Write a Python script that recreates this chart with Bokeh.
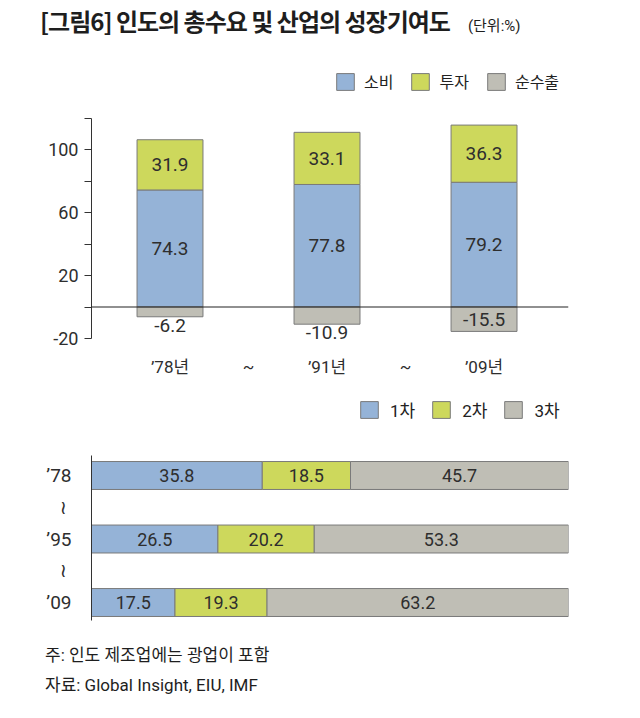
import numpy as np
from bokeh.plotting import figure
from bokeh.models import (Range1d, FixedTicker, Span, Legend, LegendItem,
                          Div, ColumnDataSource)
from bokeh.layouts import column
from bokeh.core.properties import value
from bokeh.embed import file_html
from bokeh.resources import INLINE

# ---------------- data ----------------
periods = ["’78년", "’91년", "’09년"]
consumption = [74.3, 77.8, 79.2]
investment = [31.9, 33.1, 36.3]
net_exports = [-6.2, -10.9, -15.5]
demand_series = ["소비", "투자", "순수출"]

years = ["’78", "’95", "’09"]
primary = [35.8, 26.5, 17.5]
secondary = [18.5, 20.2, 19.3]
tertiary = [45.7, 53.3, 63.2]
industry_series = ["1차", "2차", "3차"]

y_ticks = [-20, 0, 20, 40, 60, 80, 100, 120]
y_tick_labels = ["-20", "", "20", "", "60", "", "100", ""]

title_text = "[그림6] 인도의 총수요 및 산업의 성장기여도"
unit_text = "(단위:%)"
note_text = "주: 인도 제조업에는 광업이 포함"
source_text = "자료: Global Insight, EIU, IMF"

# ---------------- styles ----------------
BLUE = "#95b3d7"
GREEN = "#cdd85c"
GRAY = "#bfbeb5"
EDGE = "#7a7a7a"
TXT = "#2e2e2e"
NUM_S = "Roboto, 'Noto Sans CJK KR', sans-serif"
TILDE_S = "Roboto, 'DejaVu Sans', sans-serif"
KR_S = "'Noto Sans CJK KR', sans-serif"
NUM = value(NUM_S)

# ---------------- top chart ----------------
x = np.arange(len(periods), dtype=float)
cons = np.array(consumption)
inv = np.array(investment)
net = np.array(net_exports)
src1 = ColumnDataSource(dict(x=x, c=cons, ci=cons + inv, n=net))

p1 = figure(width=640, height=320, x_range=Range1d(-0.5, 2.538), y_range=Range1d(-24.44, 155.24),
            output_backend="svg", toolbar_location=None,
            min_border_left=88, min_border_right=72, min_border_top=2, min_border_bottom=35)
p1.outline_line_color = None
p1.xgrid.visible = False
p1.ygrid.visible = False
p1.background_fill_color = None
p1.border_fill_color = None

bw = 0.42
r_c = p1.vbar(x="x", bottom=0, top="c", width=bw, fill_color=BLUE, line_color=EDGE, source=src1)
r_i = p1.vbar(x="x", bottom="c", top="ci", width=bw, fill_color=GREEN, line_color=EDGE, source=src1)
r_n = p1.vbar(x="x", bottom="n", top=0, width=bw, fill_color=GRAY, line_color=EDGE, source=src1)

p1.add_layout(Span(location=0, dimension="width", line_color="#222222", line_width=1.2))

p1.text(x=np.concatenate([x, x]), y=np.concatenate([cons / 2, cons + inv / 2]),
        text=[f"{v:.1f}" for v in list(cons) + list(inv)],
        text_align="center", text_baseline="middle",
        text_font=NUM, text_font_size="19px", text_color=TXT)
inside = np.abs(net) > 12
p1.text(x=x[inside], y=net[inside] / 2, text=[f"{v:.1f}" for v in net[inside]],
        text_align="center", text_baseline="middle",
        text_font=NUM, text_font_size="19px", text_color=TXT)
p1.text(x=x[~inside], y=net[~inside] - 1.3, text=[f"{v:.1f}" for v in net[~inside]],
        text_align="center", text_baseline="top",
        text_font=NUM, text_font_size="19px", text_color=TXT)

yax = p1.yaxis[0]
yax.bounds = (-20, 120)
yax.ticker = FixedTicker(ticks=y_ticks)
yax.major_label_overrides = dict(zip(y_ticks, y_tick_labels))
yax.minor_tick_line_color = None
yax.major_tick_in = 0
yax.major_tick_out = 7
yax.axis_line_color = "#333333"
yax.major_tick_line_color = "#333333"
yax.major_label_text_font = NUM_S
yax.major_label_text_font_size = "18px"
yax.major_label_text_color = TXT
yax.major_label_standoff = 6

xax = p1.xaxis[0]
x_ticks = [0, 0.5, 1, 1.5, 2]
xax.ticker = FixedTicker(ticks=x_ticks)
xax.major_label_overrides = {0: periods[0], 0.5: "~", 1: periods[1], 1.5: "~", 2: periods[2]}
xax.axis_line_color = None
xax.major_tick_line_color = None
xax.minor_tick_line_color = None
xax.major_label_standoff = 5
xax.major_label_text_font = NUM_S
xax.major_label_text_font_size = "17px"
xax.major_label_text_color = TXT

leg1 = Legend(items=[LegendItem(label=s, renderers=[r]) for s, r in zip(demand_series, [r_c, r_i, r_n])],
              orientation="horizontal", location=(243, 252),
              glyph_width=22, glyph_height=21, label_height=21, label_standoff=8, spacing=16,
              padding=0, margin=0, border_line_color=None, background_fill_alpha=0,
              label_text_font=KR_S, label_text_font_size="16px", label_text_color="#222222")
p1.add_layout(leg1)

# ---------------- bottom chart ----------------
yy = np.arange(len(years), dtype=float)
p_ = np.array(primary)
s_ = np.array(secondary)
t_ = np.array(tertiary)
src2 = ColumnDataSource(dict(y=yy, a0=np.zeros(3), a1=p_, a2=p_ + s_, a3=p_ + s_ + t_))

p2 = figure(width=640, height=250, x_range=Range1d(0, 100), y_range=Range1d(2.283, -1.417),
            output_backend="svg", toolbar_location=None, x_axis_location=None,
            min_border_left=91, min_border_right=68, min_border_top=5, min_border_bottom=10)
p2.outline_line_color = None
p2.xgrid.visible = False
p2.ygrid.visible = False
p2.background_fill_color = None
p2.border_fill_color = None

bh = 0.44
h1 = p2.hbar(y="y", left="a0", right="a1", height=bh, fill_color=BLUE, line_color=EDGE, source=src2)
h2 = p2.hbar(y="y", left="a1", right="a2", height=bh, fill_color=GREEN, line_color=EDGE, source=src2)
h3 = p2.hbar(y="y", left="a2", right="a3", height=bh, fill_color=GRAY, line_color=EDGE, source=src2)

bx = np.concatenate([p_ / 2, p_ + s_ / 2, p_ + s_ + t_ / 2])
by = np.concatenate([yy, yy, yy])
bt = [f"{v:.1f}" for v in list(p_) + list(s_) + list(t_)]
p2.text(x=bx, y=by, text=bt, text_align="center", text_baseline="middle",
        text_font=NUM, text_font_size="18px", text_color=TXT)

# year labels and the vertical tildes between them, all on the axis
mid = (yy[:-1] + yy[1:]) / 2
ticks2 = sorted(list(yy) + list(mid))
over2 = {float(i): yl for i, yl in zip(yy, years)}
over2.update({float(m): "≀\u00a0" for m in mid})

yax2 = p2.yaxis[0]
yax2.bounds = (-0.315, 2.283)
yax2.ticker = FixedTicker(ticks=ticks2)
yax2.major_label_overrides = over2
yax2.major_tick_line_color = None
yax2.minor_tick_line_color = None
yax2.axis_line_color = "#333333"
yax2.major_label_standoff = 14
yax2.major_label_text_font = TILDE_S
yax2.major_label_text_font_size = "19px"
yax2.major_label_text_color = TXT

leg2 = Legend(items=[LegendItem(label=s, renderers=[r]) for s, r in zip(industry_series, [h1, h2, h3])],
              orientation="horizontal", location=(267, 198),
              glyph_width=22, glyph_height=21, label_height=21, label_standoff=10, spacing=15,
              padding=0, margin=0, border_line_color=None, background_fill_alpha=0,
              label_text_font=NUM_S,
              label_text_font_size="17px", label_text_color="#222222")
p2.add_layout(leg2)

# ---------------- texts ----------------
title_div = Div(
    text=(f'<div style="padding:4px 0 0 40px; white-space:nowrap; color:#1e1e1e;">'
          f'<span style="font-family:\'Noto Sans CJK KR\',sans-serif; font-size:24px; font-weight:bold; '
          f'letter-spacing:-1px;">{title_text}</span>'
          f'<span style="font-family:Roboto,\'Noto Sans CJK KR\',sans-serif; font-size:15px; '
          f'margin-left:18px;">{unit_text}</span></div>'),
    width=640, height=60, margin=0)

notes_div = Div(
    text=(f'<div style="padding:10px 0 0 45px; font-family:Roboto,\'Noto Sans CJK KR\',sans-serif; '
          f'font-size:17px; line-height:30px; color:#1e1e1e; white-space:nowrap;">'
          f'{note_text}<br>{source_text}</div>'),
    width=640, height=88, margin=0)

layout = column(title_div, p1, p2, notes_div, spacing=0, margin=0)

open("out.html", "w").write(file_html(layout, INLINE))
